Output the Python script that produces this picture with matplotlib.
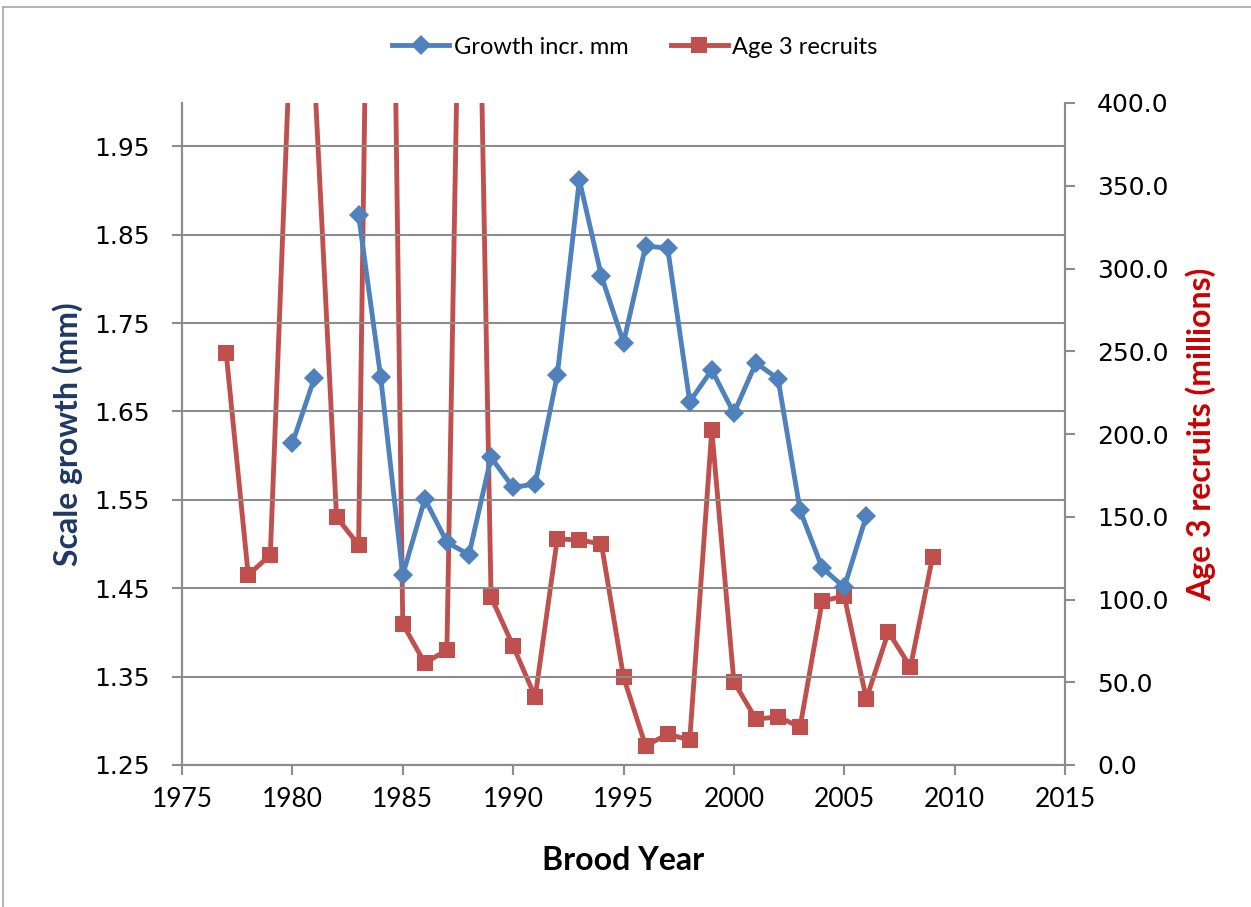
import matplotlib
matplotlib.use("Agg")
import matplotlib.pyplot as plt
from matplotlib.lines import Line2D

# ---- data ----
growth_years = [1980, 1981, 1983, 1984, 1985, 1986, 1987, 1988, 1989, 1990,
                1991, 1992, 1993, 1994, 1995, 1996, 1997, 1998, 1999, 2000,
                2001, 2002, 2003, 2004, 2005, 2006]
growth_mm = [1.614, 1.688, 1.872, 1.689, 1.465, 1.551, 1.502, 1.488, 1.598, 1.564,
             1.568, 1.691, 1.912, 1.803, 1.728, 1.837, 1.835, 1.661, 1.697, 1.648,
             1.705, 1.687, 1.538, 1.473, 1.451, 1.532]

recruit_years = list(range(1977, 2010))
recruits = [249.0, 114.8, 126.9, 472.0, 417.0, 149.8, 132.9, 1090.0, 85.2, 61.6,
            69.5, 830.0, 101.5, 71.9, 41.1, 136.6, 136.0, 133.5, 53.2, 11.5,
            18.7, 15.1, 202.4, 50.2, 27.8, 29.0, 23.0, 99.1, 102.1, 39.9,
            80.4, 59.2, 125.7]

x_ticks = [1975, 1980, 1985, 1990, 1995, 2000, 2005, 2010, 2015]
left_ticks = [1.25, 1.35, 1.45, 1.55, 1.65, 1.75, 1.85, 1.95]
right_ticks = [0, 50, 100, 150, 200, 250, 300, 350, 400]

CAL = 'Lato'
BLUE = '#4F81BD'
RED = '#C0504D'
GRID = '#8C8C8C'

fig = plt.figure(figsize=(12.51, 9.07), dpi=100)
ax = fig.add_axes([182/1251, 1-765/907, (1065-182)/1251, (765-103)/907])
ax2 = ax.twinx()

ax.set_xlim(1975, 2015)
ax.set_ylim(1.25, 1.999)
ax2.set_ylim(0, 400)

ax.set_yticks(left_ticks)
ax.set_yticklabels([f"{v:.2f}" for v in left_ticks], fontsize=18, family='DejaVu Sans')
ax2.set_yticks(right_ticks)
ax2.set_yticklabels([f"{v:.1f}" for v in right_ticks], fontsize=18, family='DejaVu Sans')
ax.set_xticks(x_ticks)
ax.set_xticklabels([str(v) for v in x_ticks], fontsize=19, family=CAL)

ax.yaxis.grid(True, color=GRID, linewidth=1.5)
ax.set_axisbelow(True)

for a in (ax, ax2):
    a.spines['top'].set_visible(False)
    for s in ('left', 'right', 'bottom'):
        a.spines[s].set_color(GRID)
        a.spines[s].set_linewidth(1.5)
    a.tick_params(color=GRID, width=1.5, length=7)
ax.tick_params(axis='x', pad=9)
ax.tick_params(axis='y', pad=16)
ax2.tick_params(axis='y', pad=16)

ax.set_zorder(2)
ax.patch.set_visible(False)
ax2.set_zorder(1)

ax.plot(growth_years[:2], growth_mm[:2], color=BLUE, lw=3.5, marker='D',
        markersize=10, markeredgewidth=0, zorder=5)
ax.plot(growth_years[2:], growth_mm[2:], color=BLUE, lw=3.5, marker='D',
        markersize=10, markeredgewidth=0, zorder=5)
ax2.plot(recruit_years, recruits, color=RED, lw=3.5, marker='s',
         markersize=11, markeredgewidth=0, zorder=5)

ax.set_xlabel('Brood Year', fontsize=23, fontweight='bold', family=CAL, labelpad=24)
ax.set_ylabel('Scale growth (mm)', fontsize=23, fontweight='bold', family=CAL,
              color='#1F3864', labelpad=8)
ax2.set_ylabel('Age 3 recruits (millions)', fontsize=23, fontweight='bold', family=CAL,
               color='#CC0000', labelpad=12)

handles = [Line2D([], [], color=BLUE, lw=3.5, marker='D', markersize=10, markeredgewidth=0),
           Line2D([], [], color=RED, lw=3.5, marker='s', markersize=11, markeredgewidth=0)]
fig.legend(handles, ['Growth incr. mm', 'Age 3 recruits'], loc='center',
           bbox_to_anchor=(635/1251, 1-47/907), ncol=2, frameon=False,
           prop={'family': CAL, 'size': 17}, handlelength=2.4, columnspacing=1.8,
           handletextpad=0.2)

# outer chart border (left and top)
fig.add_artist(Line2D([3/1251, 3/1251], [0.0, 1-7/907], transform=fig.transFigure,
                      color='#A6A6A6', lw=1.2))
fig.add_artist(Line2D([3/1251, 1.0], [1-7/907, 1-7/907], transform=fig.transFigure,
                      color='#A6A6A6', lw=1.2))

fig.savefig('out.png', dpi=100)
